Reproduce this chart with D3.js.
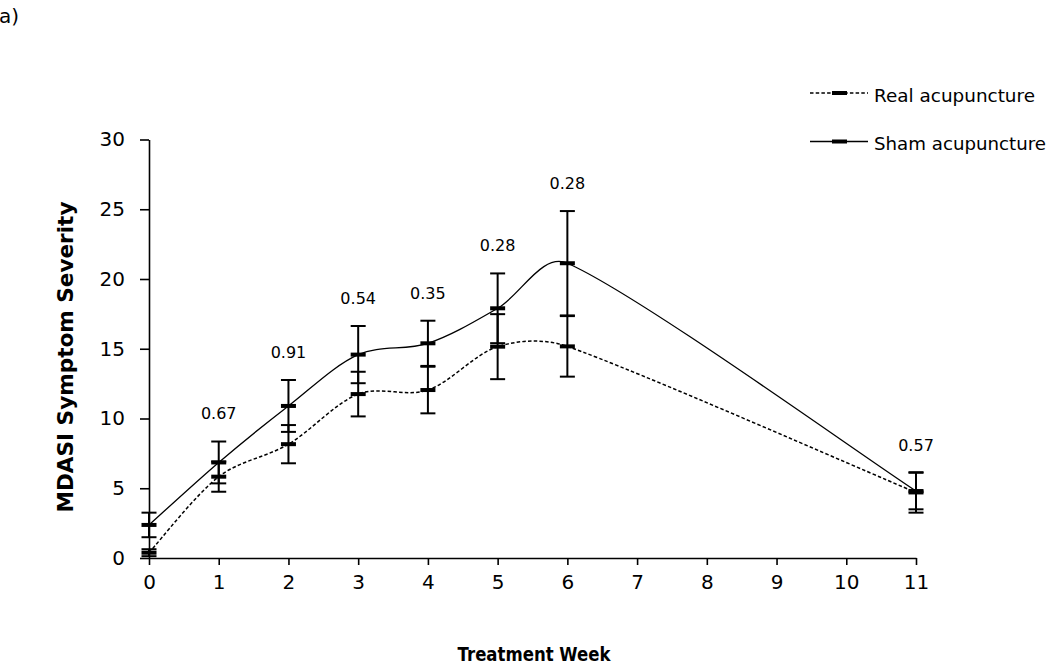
<!DOCTYPE html>
<html>
<head>
<meta charset="utf-8">
<script src="https://cdn.jsdelivr.net/npm/d3@7"></script>
<style>
  html, body { margin: 0; padding: 0; background: #fff; }
  svg { display: block; }
  text { font-family: "DejaVu Sans", sans-serif; fill: #000; }
</style>
</head>
<body>
<svg id="chart" width="1050" height="666"></svg>
<script>
// ---- data ----
const weeks = [0, 1, 2, 3, 4, 5, 6, 11];
const realMean = [0.38, 5.83, 8.16, 11.75, 12.04, 15.15, 15.17, 4.7];
const realErr  = [0.25, 1.08, 1.37, 1.6, 1.67, 2.33, 2.17, 1.45];
const shamMean = [2.37, 6.85, 10.9, 14.58, 15.39, 17.9, 21.13, 4.8];
const shamErr  = [0.88, 1.5, 1.86, 2.05, 1.62, 2.5, 3.74, 1.31];
const pValues  = ["", "0.67", "0.91", "0.54", "0.35", "0.28", "0.28", "0.57"];
const xTickValues = [0, 1, 2, 3, 4, 5, 6, 7, 8, 9, 10, 11];
const yTickValues = [0, 5, 10, 15, 20, 25, 30];
const seriesNames = ["Real acupuncture", "Sham acupuncture"];

// ---- layout ----
const svg = d3.select("#chart");
const x = d3.scaleLinear().domain([0, 11]).range([149, 916]);
const y = d3.scaleLinear().domain([0, 30]).range([558, 139.5]);

// spreadsheet-style smoothed line: Catmull-Rom tangents, limited to a third of each segment
function smoothPath(pts) {
  const n = pts.length, p = d3.path();
  p.moveTo(pts[0][0], pts[0][1]);
  const tan = i => {
    const a = pts[Math.max(i - 1, 0)], b = pts[Math.min(i + 1, n - 1)];
    return [(b[0] - a[0]) / 6, (b[1] - a[1]) / 6];
  };
  const clamp = (t, len) => {
    const m = Math.hypot(t[0], t[1]);
    const s = m > len / 3 ? (len / 3) / m : 1;
    return [t[0] * s, t[1] * s];
  };
  for (let i = 0; i < n - 1; i++) {
    const a = pts[i], b = pts[i + 1];
    const L = Math.hypot(b[0] - a[0], b[1] - a[1]);
    const t0 = clamp(tan(i), L), t1 = clamp(tan(i + 1), L);
    p.bezierCurveTo(a[0] + t0[0], a[1] + t0[1], b[0] - t1[0], b[1] - t1[1], b[0], b[1]);
  }
  return p.toString();
}

// panel label
svg.append("text").attr("x", -1).attr("y", 23).attr("font-size", 20).text("a)");

// axes
const yAxis = d3.axisLeft(y).tickValues(yTickValues).tickSize(9).tickPadding(15).tickSizeOuter(0);
const xAxis = d3.axisBottom(x).tickValues(xTickValues).tickSize(7).tickPadding(10).tickSizeOuter(0);

const gy = svg.append("g").attr("transform", `translate(${x(0)},0)`).call(yAxis);
const gx = svg.append("g").attr("transform", `translate(0,${y(0)})`).call(xAxis);
[gx, gy].forEach(g => {
  g.select(".domain").attr("stroke", "#000").attr("stroke-width", 1.6);
  g.selectAll(".tick line").attr("stroke", "#000").attr("stroke-width", 1.6);
  g.selectAll(".tick text").attr("font-family", "DejaVu Sans, sans-serif").attr("font-size", 20).attr("fill", "#000");
});

// axis titles
svg.append("text")
  .attr("transform", "translate(73,357) rotate(-90)")
  .attr("text-anchor", "middle")
  .attr("font-size", 21).attr("font-weight", "bold")
  .attr("textLength", 311).attr("lengthAdjust", "spacingAndGlyphs")
  .text("MDASI Symptom Severity");

svg.append("text")
  .attr("x", 534).attr("y", 661)
  .attr("text-anchor", "middle")
  .attr("font-size", 20).attr("font-weight", "bold")
  .attr("textLength", 153).attr("lengthAdjust", "spacingAndGlyphs")
  .text("Treatment Week");

// series
const series = [
  { name: seriesNames[0], mean: realMean, err: realErr, dash: "3.5,2.2", width: 1.5 },
  { name: seriesNames[1], mean: shamMean, err: shamErr, dash: null, width: 1.3 }
];

const capHalf = 7.5;
series.forEach(s => {
  const g = svg.append("g");
  weeks.forEach((w, i) => {
    const lo = s.mean[i] - s.err[i], hi = s.mean[i] + s.err[i];
    g.append("line").attr("x1", x(w)).attr("x2", x(w)).attr("y1", y(lo)).attr("y2", y(hi))
      .attr("stroke", "#000").attr("stroke-width", 2);
    [lo, hi].forEach(v => {
      g.append("line").attr("x1", x(w) - capHalf).attr("x2", x(w) + capHalf)
        .attr("y1", y(v)).attr("y2", y(v)).attr("stroke", "#000").attr("stroke-width", 2);
    });
  });
});

series.forEach(s => {
  const pts = s.mean.map((d, i) => [x(weeks[i]), y(d)]);
  svg.append("path").attr("d", smoothPath(pts)).attr("fill", "none")
    .attr("stroke", "#000").attr("stroke-width", s.width)
    .attr("stroke-dasharray", s.dash);
  svg.append("g").selectAll("rect").data(s.mean).join("rect")
    .attr("x", (d, i) => x(weeks[i]) - 7.5).attr("y", d => y(d) - 2)
    .attr("width", 15).attr("height", 4).attr("fill", "#000");
});

// p-value labels
weeks.forEach((w, i) => {
  if (!pValues[i]) return;
  svg.append("text")
    .attr("x", x(w)).attr("y", y(shamMean[i] + shamErr[i] + 2))
    .attr("dy", "0.36em").attr("text-anchor", "middle")
    .attr("font-size", 16).text(pValues[i]);
});

// legend
const legendY = [93, 141.5];
series.forEach((s, i) => {
  const g = svg.append("g");
  g.append("line").attr("x1", 810).attr("x2", 868).attr("y1", legendY[i]).attr("y2", legendY[i])
    .attr("stroke", "#000").attr("stroke-width", s.width).attr("stroke-dasharray", s.dash);
  g.append("rect").attr("x", 832).attr("y", legendY[i] - 2).attr("width", 15).attr("height", 4).attr("fill", "#000");
  g.append("text").attr("x", 874).attr("y", legendY[i] + 8.5)
    .attr("font-size", 17)
    .attr("textLength", i === 0 ? 161 : 172).attr("lengthAdjust", "spacingAndGlyphs")
    .text(s.name);
});
</script>
</body>
</html>
